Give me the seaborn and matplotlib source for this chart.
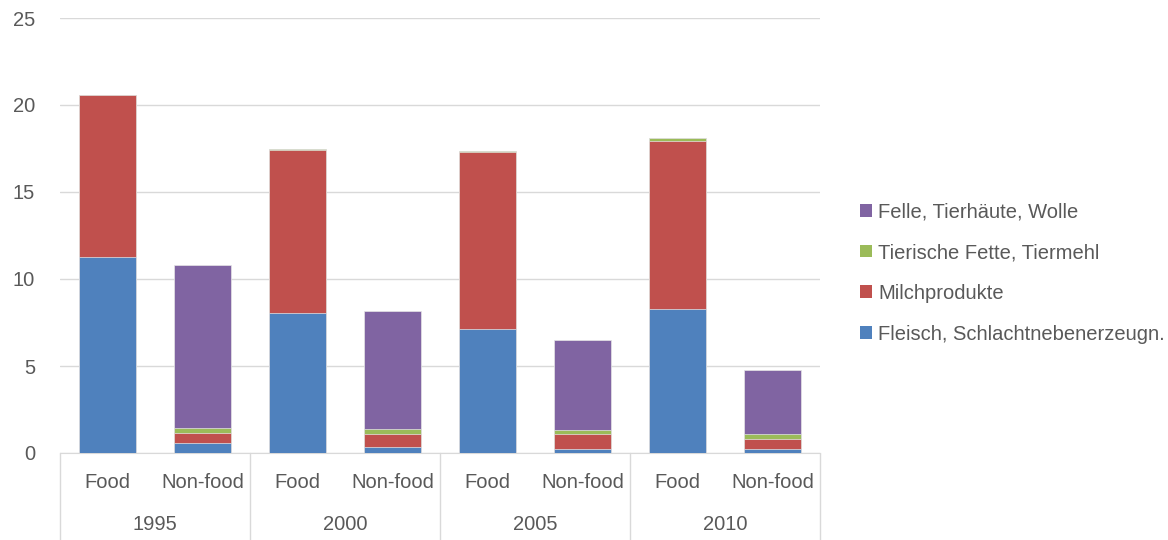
import numpy as np
import pandas as pd
import matplotlib
matplotlib.use("Agg")
import matplotlib.pyplot as plt
import seaborn as sns
from matplotlib.patches import Patch

# data
years = ["1995", "2000", "2005", "2010"]
kinds = ["Food", "Non-food"]
fleisch = [11.26, 0.59, 8.03, 0.36, 7.13, 0.23, 8.28, 0.23]
milch = [9.29, 0.56, 9.38, 0.75, 10.19, 0.84, 9.63, 0.56]
fette = [0.05, 0.27, 0.05, 0.25, 0.04, 0.25, 0.21, 0.28]
felle = [0.0, 9.40, 0.0, 6.78, 0.0, 5.17, 0.0, 3.72]
series_names = ["Fleisch, Schlachtnebenerzeugn.", "Milchprodukte",
                "Tierische Fette, Tiermehl", "Felle, Tierhäute, Wolle"]
colors = ["#4F81BD", "#C0504D", "#9BBB59", "#8064A2"]

sns.set_style("white")
plt.rcParams["font.family"] = ["Liberation Sans", "DejaVu Sans"]
txt = "#595959"
fs = 14.5

cats = [f"{y} {k}" for y in years for k in kinds]
df = pd.DataFrame({"cat": cats, "s0": fleisch, "s1": milch, "s2": fette, "s3": felle})
cum = df[["s0", "s1", "s2", "s3"]].cumsum(axis=1)

fig = plt.figure(figsize=(11.68, 5.4), dpi=100)
ax = fig.add_axes([60 / 1168, 1 - 453 / 540, 760 / 1168, 435 / 540])

# overlapping cumulative bars give the stacked look
for i in range(3, -1, -1):
    sns.barplot(x=df["cat"], y=cum[f"s{i}"], order=cats, color=colors[i],
                width=0.59, saturation=1, edgecolor="#e6e6e6", linewidth=0.5,
                ax=ax, zorder=3)

ax.set_ylim(0, 25)
ax.set_xlim(-0.5, 7.5)
ax.set_yticks([0, 5, 10, 15, 20, 25])
ax.yaxis.grid(True, color="#d9d9d9", linewidth=1, zorder=0)
ax.set_axisbelow(True)
for s in ["top", "right", "left"]:
    ax.spines[s].set_visible(False)
ax.spines["bottom"].set_color("#d9d9d9")
ax.set_xlabel("")
ax.set_ylabel("")
ax.set_xticks([])
ax.tick_params(axis="y", length=0, labelsize=fs, colors=txt, pad=18)

# two-level category axis
trans = ax.get_xaxis_transform()
bottom_y = -87 / 435
for x in np.arange(-0.5, 8, 2):
    ax.plot([x, x], [0, bottom_y], color="#d9d9d9", lw=1, transform=trans, clip_on=False)
for i, c in enumerate(cats):
    ax.text(i, -30 / 435, c.split(" ")[1], transform=trans, ha="center", va="center",
            fontsize=fs, color=txt)
for j, y in enumerate(years):
    ax.text(2 * j + 0.5, -71 / 435, y, transform=trans, ha="center", va="center",
            fontsize=fs, color=txt)

handles = [Patch(facecolor=colors[i], edgecolor="none") for i in range(3, -1, -1)]
labels = [series_names[i] for i in range(3, -1, -1)]
fig.legend(handles, labels, loc="center left", bbox_to_anchor=(842 / 1168, 1 - 273 / 540),
           frameon=False, fontsize=fs, labelcolor=txt, handlelength=0.6, handleheight=0.6,
           handletextpad=0.3, labelspacing=1.08)

fig.savefig("out.png", dpi=100, facecolor="white")
